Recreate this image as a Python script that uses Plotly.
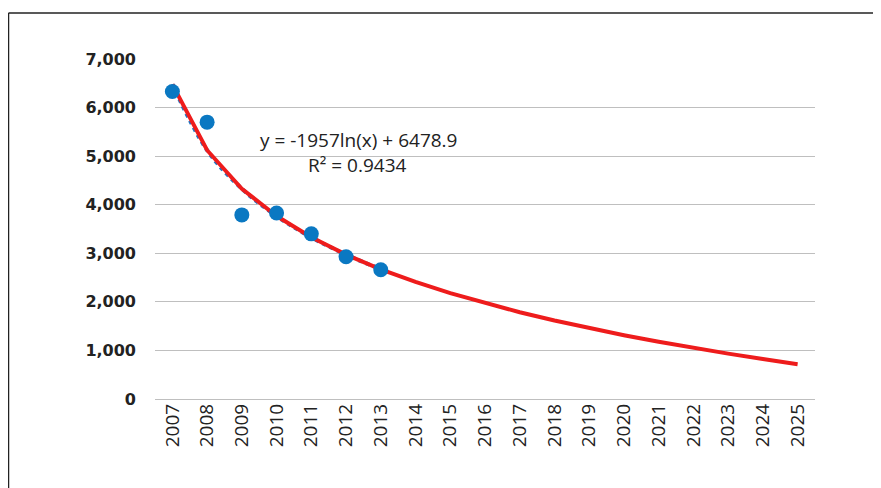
import plotly.graph_objects as go

years = [str(y) for y in range(2007, 2026)]
actual_years = years[:7]
actual_values = [6330, 5700, 3790, 3830, 3400, 2930, 2660]
trend_values = [6479, 5122, 4329, 3766, 3329, 2972, 2671, 2410, 2179, 1973,
                1786, 1616, 1459, 1314, 1179, 1053, 934, 822, 717]
y_ticks = [0, 1000, 2000, 3000, 4000, 5000, 6000, 7000]
y_ticktext = ["0", "1,000", "2,000", "3,000", "4,000", "5,000", "6,000", "7,000"]
equation = "y = -1957ln(x) + 6478.9"
r2 = "R² = 0.9434"

# page is offset by the 8px body margin
OFF = 8
W, H = 873, 480
L, R, T, B = 155 - OFF, 66, 59 - OFF, 89
pw, ph = W - L - R, H - T - B

def px(x):
    return (x - OFF - L) / pw

def py(y):
    return (H - B - (y - OFF)) / ph

fig = go.Figure()
fig.add_trace(go.Scatter(x=actual_years, y=trend_values[:7], mode="lines",
                         line=dict(color="#1F77C4", width=4, dash="dot", shape="spline"),
                         showlegend=False, hoverinfo="skip"))
fig.add_trace(go.Scatter(x=years, y=trend_values, mode="lines",
                         line=dict(color="#EE1C1C", width=4),
                         showlegend=False))
fig.add_trace(go.Scatter(x=actual_years, y=actual_values, mode="markers",
                         marker=dict(color="#0A78C2", size=15),
                         showlegend=False))

fig.add_annotation(x=px(358), y=py(140), xref="paper", yref="paper", text=equation,
                   showarrow=False, font=dict(family="Open Sans", size=19, color="#222"),
                   xanchor="center", yanchor="middle")
fig.add_annotation(x=px(357), y=py(165), xref="paper", yref="paper", text=r2,
                   showarrow=False, font=dict(family="Open Sans", size=19, color="#222"),
                   xanchor="center", yanchor="middle")

# outer border (top and left)
fig.add_shape(type="line", xref="paper", yref="paper", x0=px(8.5), x1=px(900), y0=py(13), y1=py(13),
              line=dict(color="#222", width=1.5))
fig.add_shape(type="line", xref="paper", yref="paper", x0=px(8.5), x1=px(8.5), y0=py(13), y1=py(500),
              line=dict(color="#222", width=1.5))

fig.update_layout(
    width=W, height=H,
    margin=dict(l=L, r=R, t=T, b=B),
    paper_bgcolor="white", plot_bgcolor="white",
    xaxis=dict(type="category", categoryorder="array", categoryarray=years,
               tickangle=-90, tickfont=dict(family="Open Sans", size=19, color="#222"),
               showgrid=False, showline=False, ticks="", zeroline=False,
               range=[-0.5, 18.5]),
    yaxis=dict(range=[0, 7000], tickvals=y_ticks, ticktext=y_ticktext,
               tickfont=dict(family="DejaVu Sans", size=16, color="#222", weight="bold"),
               showgrid=True, gridcolor="#BFBFBF", gridwidth=1, zeroline=True,
               zerolinecolor="#BFBFBF", zerolinewidth=1, showline=False,
               ticklabelstandoff=18),
)

fig.write_html("out.html")
